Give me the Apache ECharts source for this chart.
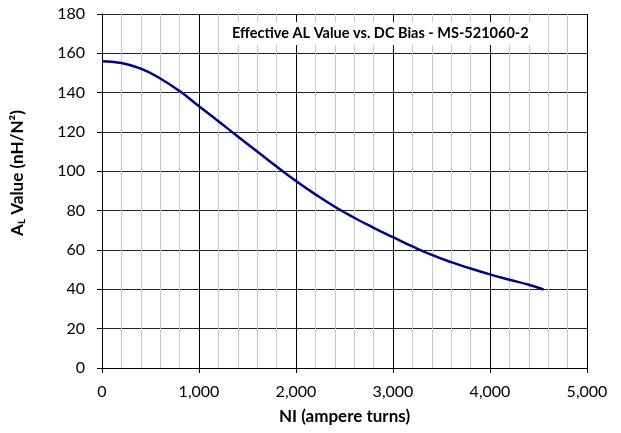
<!DOCTYPE html>
<html>
<head>
<meta charset="utf-8">
<script src="https://cdn.jsdelivr.net/npm/echarts@6/dist/echarts.min.js"></script>
<style>html,body{margin:0;padding:0;background:#fff}#c{width:621px;height:433px}</style>
</head>
<body>
<div id="c"></div>
<script>
const chartTitle = 'Effective AL Value vs. DC Bias - MS-521060-2';
const xAxisName = 'NI (ampere turns)';
const niValues = [0, 200, 400, 600, 800, 1000, 1200, 1400, 1600, 1800, 2000, 2200, 2400, 2600, 2800, 3000, 3200, 3400, 3600, 3800, 4000, 4200, 4400, 4552];
const alValues = [156.0, 155.1, 152.2, 147.2, 140.8, 133.1, 125.5, 117.7, 110.1, 102.4, 95.1, 88.3, 82.0, 76.4, 71.3, 66.5, 61.8, 57.5, 53.8, 50.6, 47.6, 44.9, 42.3, 39.9];

const FONT = 'Lato, "Open Sans", sans-serif';
const chart = echarts.init(document.getElementById('c'));
chart.setOption({
  animation: false,
  backgroundColor: '#fff',
  title: {
    text: chartTitle,
    left: 228, top: 22,
    padding: [4, 4, 4, 4],
    backgroundColor: '#fff',
    textStyle: { fontFamily: FONT, fontSize: 14.5, fontWeight: 'bold', color: '#000' }
  },
  grid: { left: 102, right: 34, top: 14, bottom: 65, containLabel: false },
  xAxis: {
    type: 'value', min: 0, max: 5000, interval: 1000,
    name: xAxisName, nameLocation: 'middle', nameGap: 40,
    nameTextStyle: { fontFamily: FONT, fontSize: 17, fontWeight: 'bold', color: '#000' },
    axisLine: { show: true, lineStyle: { color: '#000', width: 1 } },
    axisTick: { show: true, length: 5, lineStyle: { color: '#000' } },
    axisLabel: { margin: 16, fontFamily: FONT, fontSize: 16, color: '#000',
      formatter: v => v.toLocaleString('en-US') },
    splitLine: { show: true, lineStyle: { color: '#000', width: 1 } },
    minorTick: { show: false, splitNumber: 5 },
    minorSplitLine: { show: true, lineStyle: { color: '#c8c8c8', width: 1 } }
  },
  yAxis: {
    type: 'value', min: 0, max: 180, interval: 20,
    name: '{a|A}{s|L}{a| Value (nH/N²)}', nameLocation: 'middle', nameGap: 75,
    nameTextStyle: {
      fontFamily: FONT, fontSize: 17, fontWeight: 'bold', color: '#000',
      padding: [0, 0, 0, 36],
      rich: {
        a: { fontFamily: FONT, fontSize: 17, fontWeight: 'bold', color: '#000' },
        s: { fontFamily: FONT, fontSize: 10, fontWeight: 'bold', color: '#000', verticalAlign: 'bottom', padding: [8, 0, 0, 0] }
      }
    },
    axisLine: { show: true, lineStyle: { color: '#000', width: 1 } },
    axisTick: { show: true, length: 5, lineStyle: { color: '#000' } },
    axisLabel: { margin: 17, fontFamily: FONT, fontSize: 16, color: '#000' },
    splitLine: { show: true, lineStyle: { color: '#222', width: 1 } }
  },
  series: [{
    type: 'line',
    data: niValues.map((x, i) => [x, alValues[i]]),
    smooth: 0.5,
    showSymbol: false,
    lineStyle: { color: '#000088', width: 2.5 },
    z: 3
  }]
});
</script>
</body>
</html>
